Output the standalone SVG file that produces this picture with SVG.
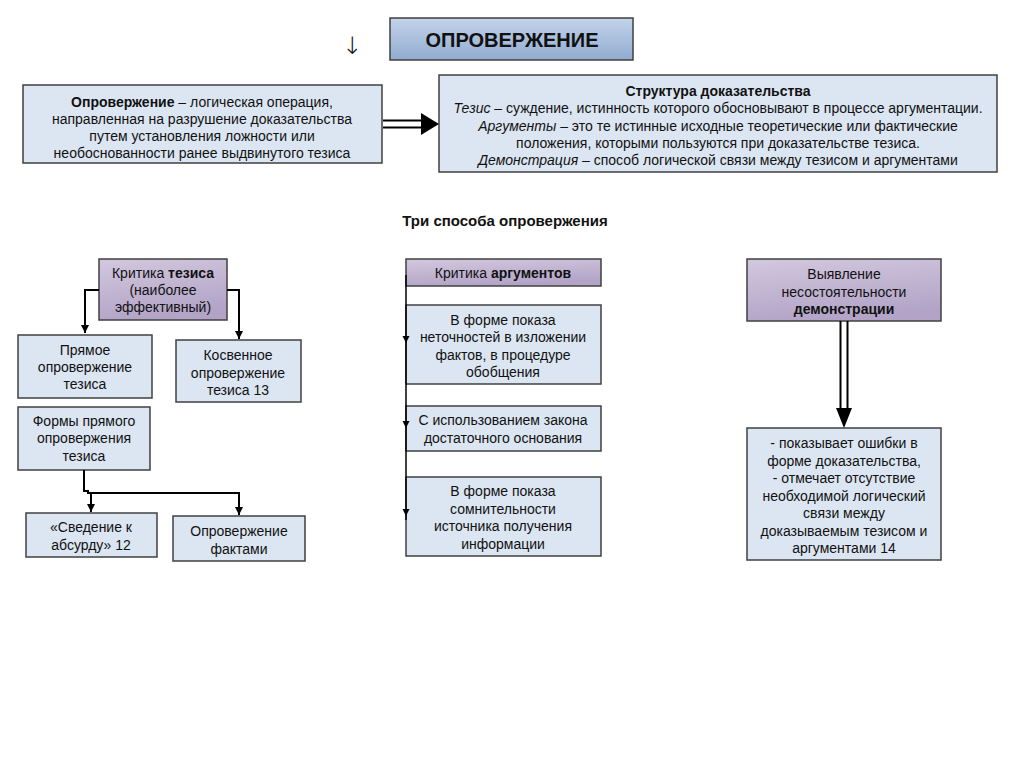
<svg xmlns="http://www.w3.org/2000/svg" width="1024" height="767" viewBox="0 0 1024 767">
<defs>
<linearGradient id="gTitle" x1="0" y1="0" x2="0" y2="1">
<stop offset="0" stop-color="#c3d4ea"/><stop offset="1" stop-color="#91abd0"/>
</linearGradient>
<linearGradient id="gPurple" x1="0" y1="0" x2="0.3" y2="1">
<stop offset="0" stop-color="#d2c8de"/><stop offset="1" stop-color="#b3a4c7"/>
</linearGradient>
<marker id="ah" viewBox="0 0 10 10" refX="10" refY="5" markerWidth="4" markerHeight="4" orient="auto" markerUnits="strokeWidth">
<path d="M0 0 L10 5 L0 10 Z" fill="#000"/>
</marker>
</defs>
<style>
text{font-family:"Liberation Sans",Arial,sans-serif;font-size:14px;fill:#111;text-anchor:middle}
.b{font-weight:bold}
.i{font-style:italic}
.box{fill:#dce6f2;stroke:#404040;stroke-width:1.5}
.pbox{fill:url(#gPurple);stroke:#404040;stroke-width:1.5}
.ln{fill:none;stroke:#000;stroke-width:2}
</style>
<rect width="1024" height="767" fill="#fff"/>

<g id="title">
<rect x="390" y="18" width="243" height="42" fill="url(#gTitle)" stroke="#404040" stroke-width="1.5"/>
<text x="512" y="47" class="b" style="font-size:20px">ОПРОВЕРЖЕНИЕ</text>
</g>
<text x="352" y="54" style="font-size:24px;font-family:'DejaVu Sans',sans-serif;font-weight:300">↓</text>

<g id="definition">
<rect x="23" y="85" width="359" height="78" class="box"/>
<text x="202" y="107"><tspan class="b">Опровержение</tspan> – логическая операция,</text>
<text x="202" y="124">направленная на разрушение доказательства</text>
<text x="202" y="141">путем установления ложности или</text>
<text x="202" y="158">необоснованности ранее выдвинутого тезиса</text>
</g>

<g id="structure">
<rect x="439" y="75" width="558" height="97" class="box"/>
<text x="718" y="96" class="b">Структура доказательства</text>
<text x="718" y="113"><tspan class="i">Тезис</tspan> – суждение, истинность которого обосновывают в процессе аргументации.</text>
<text x="718" y="131"><tspan class="i">Аргументы</tspan> – это те истинные исходные теоретические или фактические</text>
<text x="718" y="148">положения, которыми пользуются при доказательстве тезиса.</text>
<text x="718" y="165"><tspan class="i">Демонстрация</tspan> – способ логической связи между тезисом и аргументами</text>
</g>

<text x="505" y="226" class="b" style="font-size:15px">Три способа опровержения</text>

<g id="n-kritika-tezisa">
<rect x="99" y="259" width="128" height="61" class="pbox"/>
<text x="163" y="278">Критика <tspan class="b">тезиса</tspan></text>
<text x="163" y="295">(наиболее</text>
<text x="163" y="312">эффективный)</text>
</g>
<g id="n-pryamoe">
<rect x="18" y="335" width="134" height="63" class="box"/>
<text x="85" y="355">Прямое</text>
<text x="85" y="372">опровержение</text>
<text x="85" y="389">тезиса</text>
</g>
<g id="n-kosvennoe">
<rect x="176" y="340" width="125" height="62" class="box"/>
<text x="238" y="360">Косвенное</text>
<text x="238" y="378">опровержение</text>
<text x="238" y="395">тезиса 13</text>
</g>
<g id="n-formy">
<rect x="18" y="407" width="132" height="63" class="box"/>
<text x="84" y="426">Формы прямого</text>
<text x="84" y="443">опровержения</text>
<text x="84" y="461">тезиса</text>
</g>
<g id="n-svedenie">
<rect x="26" y="513" width="131" height="44" class="box"/>
<text x="91" y="532">«Сведение к</text>
<text x="91" y="550">абсурду» 12</text>
</g>
<g id="n-faktami">
<rect x="173" y="516" width="132" height="45" class="box"/>
<text x="239" y="536">Опровержение</text>
<text x="239" y="554">фактами</text>
</g>

<g id="n-kritika-arg">
<rect x="406" y="259" width="195" height="27" class="pbox"/>
<text x="503" y="278">Критика <tspan class="b">аргументов</tspan></text>
</g>
<g id="n-arg1">
<rect x="406" y="305" width="195" height="79" class="box"/>
<text x="503" y="325">В форме показа</text>
<text x="503" y="342">неточностей в изложении</text>
<text x="503" y="360">фактов, в процедуре</text>
<text x="503" y="377">обобщения</text>
</g>
<g id="n-arg2">
<rect x="406" y="406" width="195" height="45" class="box"/>
<text x="503" y="425">С использованием закона</text>
<text x="503" y="443">достаточного основания</text>
</g>
<g id="n-arg3">
<rect x="406" y="477" width="195" height="79" class="box"/>
<text x="503" y="496">В форме показа</text>
<text x="503" y="514">сомнительности</text>
<text x="503" y="531">источника получения</text>
<text x="503" y="549">информации</text>
</g>

<g id="n-vyyavlenie">
<rect x="747" y="259" width="194" height="62" class="pbox"/>
<text x="844" y="279">Выявление</text>
<text x="844" y="297">несостоятельности</text>
<text x="844" y="314" class="b">демонстрации</text>
</g>
<g id="n-oshibki">
<rect x="747" y="428" width="194" height="132" class="box"/>
<text x="844" y="448">- показывает ошибки в</text>
<text x="844" y="466">форме доказательства,</text>
<text x="844" y="483">- отмечает отсутствие</text>
<text x="844" y="501">необходимой логический</text>
<text x="844" y="518">связи между</text>
<text x="844" y="536">доказываемым тезисом и</text>
<text x="844" y="553">аргументами 14</text>
</g>

<g id="connectors">
<line x1="383" y1="120.5" x2="424" y2="120.5" stroke="#000" stroke-width="2"/>
<line x1="383" y1="127.5" x2="424" y2="127.5" stroke="#000" stroke-width="2"/>
<path d="M421 113 L439 124 L421 135 Z" fill="#000"/>
<path d="M99 290 H85 V333" class="ln" marker-end="url(#ah)"/>
<path d="M227 290 H239 V339" class="ln" marker-end="url(#ah)"/>
<path d="M84 470 V491 H88 V493 H239 V515" class="ln" marker-end="url(#ah)"/>
<path d="M91 493 V512" class="ln" marker-end="url(#ah)"/>
<line x1="406" y1="275" x2="406" y2="520" stroke="#000" stroke-width="1.5"/>
<path d="M402.5 336 L406 343 L409.5 336 Z" fill="#000"/>
<path d="M402.5 421 L406 428 L409.5 421 Z" fill="#000"/>
<path d="M402.5 509 L406 516 L409.5 509 Z" fill="#000"/>
<line x1="840.5" y1="321" x2="840.5" y2="412" stroke="#000" stroke-width="2"/>
<line x1="847.5" y1="321" x2="847.5" y2="412" stroke="#000" stroke-width="2"/>
<path d="M836 408 L844 428 L852 408 Z" fill="#000"/>
</g>
</svg>
